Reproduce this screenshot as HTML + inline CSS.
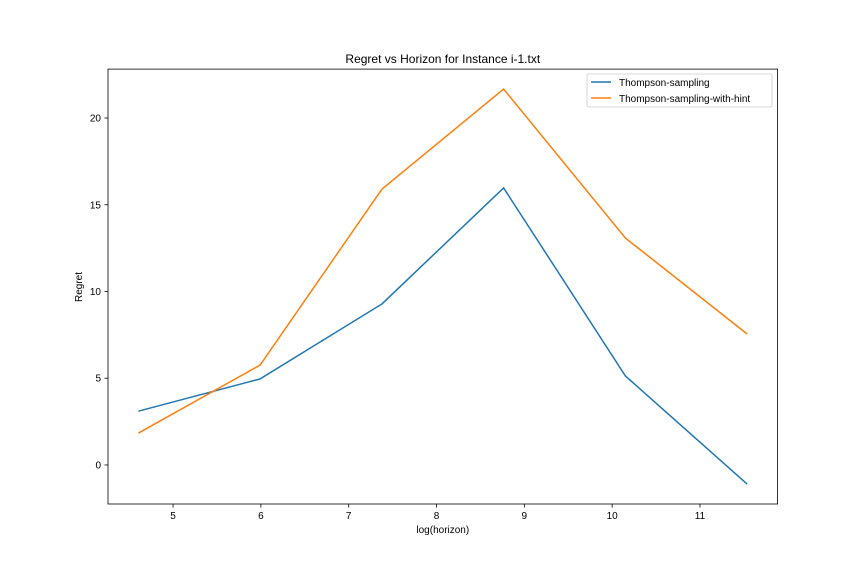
<!DOCTYPE html>
<html><head><meta charset="utf-8"><style>
body{margin:0;background:#fff;font-family:"Liberation Sans","DejaVu Sans",sans-serif;}
text{font-family:"Liberation Sans","DejaVu Sans",sans-serif;}
</style></head><body>
<svg id="chart" width="864" height="576" xmlns="http://www.w3.org/2000/svg">
<rect width="864" height="576" fill="#fff"/>
<g id="plot"></g>
</svg>
<script>
const xValues=[4.605,5.991,7.378,8.764,10.151,11.537];
const thompson=[3.1,4.96,9.28,15.97,5.13,-1.1];
const thompsonHint=[1.84,5.76,15.9,21.67,13.08,7.55];
const xTicks=[5,6,7,8,9,10,11];
const yTicks=[0,5,10,15,20];
const L=108,R=777.6,T=69.1,B=504;
const xMin=4.259,xMax=11.884,yMin=-2.25,yMax=22.82;
const sx=v=>L+(v-xMin)/(xMax-xMin)*(R-L);
const sy=v=>B-(v-yMin)/(yMax-yMin)*(B-T);
const NS="http://www.w3.org/2000/svg";
const g=document.getElementById('plot');
function mk(t,a,p){const e=document.createElementNS(NS,t);for(const k in a)e.setAttribute(k,a[k]);(p||g).appendChild(e);return e;}
function series(vals,color,name){
  const pts=xValues.map((x,i)=>sx(x).toFixed(2)+','+sy(vals[i]).toFixed(2)).join(' ');
  const l=mk('polyline',{points:pts,fill:'none',stroke:color,'stroke-width':1.5});
  
  
}
series(thompson,'#1f77b4','thompson-sampling-line');
series(thompsonHint,'#ff7f0e','thompson-hint-line');
const ax=mk('rect',{x:L,y:T,width:R-L,height:B-T,fill:'none',stroke:'#000','stroke-width':0.8});


xTicks.forEach(v=>{
  const x=sx(v);
  mk('line',{x1:x,x2:x,y1:B,y2:B+3.5,stroke:'#000','stroke-width':0.8});
  const t=mk('text',{x:x,y:B+15,'font-size':10,'text-anchor':'middle'});t.textContent=v;
  
  
});
yTicks.forEach(v=>{
  const y=sy(v);
  mk('line',{x1:L-3.5,x2:L,y1:y,y2:y,stroke:'#000','stroke-width':0.8});
  const t=mk('text',{x:L-7,y:y+3.5,'font-size':10,'text-anchor':'end'});t.textContent=v;
  
  
});
let t=mk('text',{x:(L+R)/2,y:63,'font-size':12,'text-anchor':'middle'});t.textContent='Regret vs Horizon for Instance i-1.txt';


t=mk('text',{x:(L+R)/2,y:533,'font-size':10,'text-anchor':'middle'});t.textContent='log(horizon)';


t=mk('text',{x:0,y:0,'font-size':10,'text-anchor':'middle',transform:'translate(82,287) rotate(-90)'});t.textContent='Regret';


const lg=mk('g',{});


mk('rect',{x:587,y:74,width:185,height:33,rx:2,fill:'#fff',stroke:'#ccc','stroke-width':0.8},lg);
mk('line',{x1:591,x2:611,y1:82,y2:82,stroke:'#1f77b4','stroke-width':1.5},lg);
t=mk('text',{x:619,y:86,'font-size':10},lg);t.textContent='Thompson-sampling';


mk('line',{x1:591,x2:611,y1:98,y2:98,stroke:'#ff7f0e','stroke-width':1.5},lg);
t=mk('text',{x:619,y:102,'font-size':10},lg);t.textContent='Thompson-sampling-with-hint';


</script>
</body></html>
